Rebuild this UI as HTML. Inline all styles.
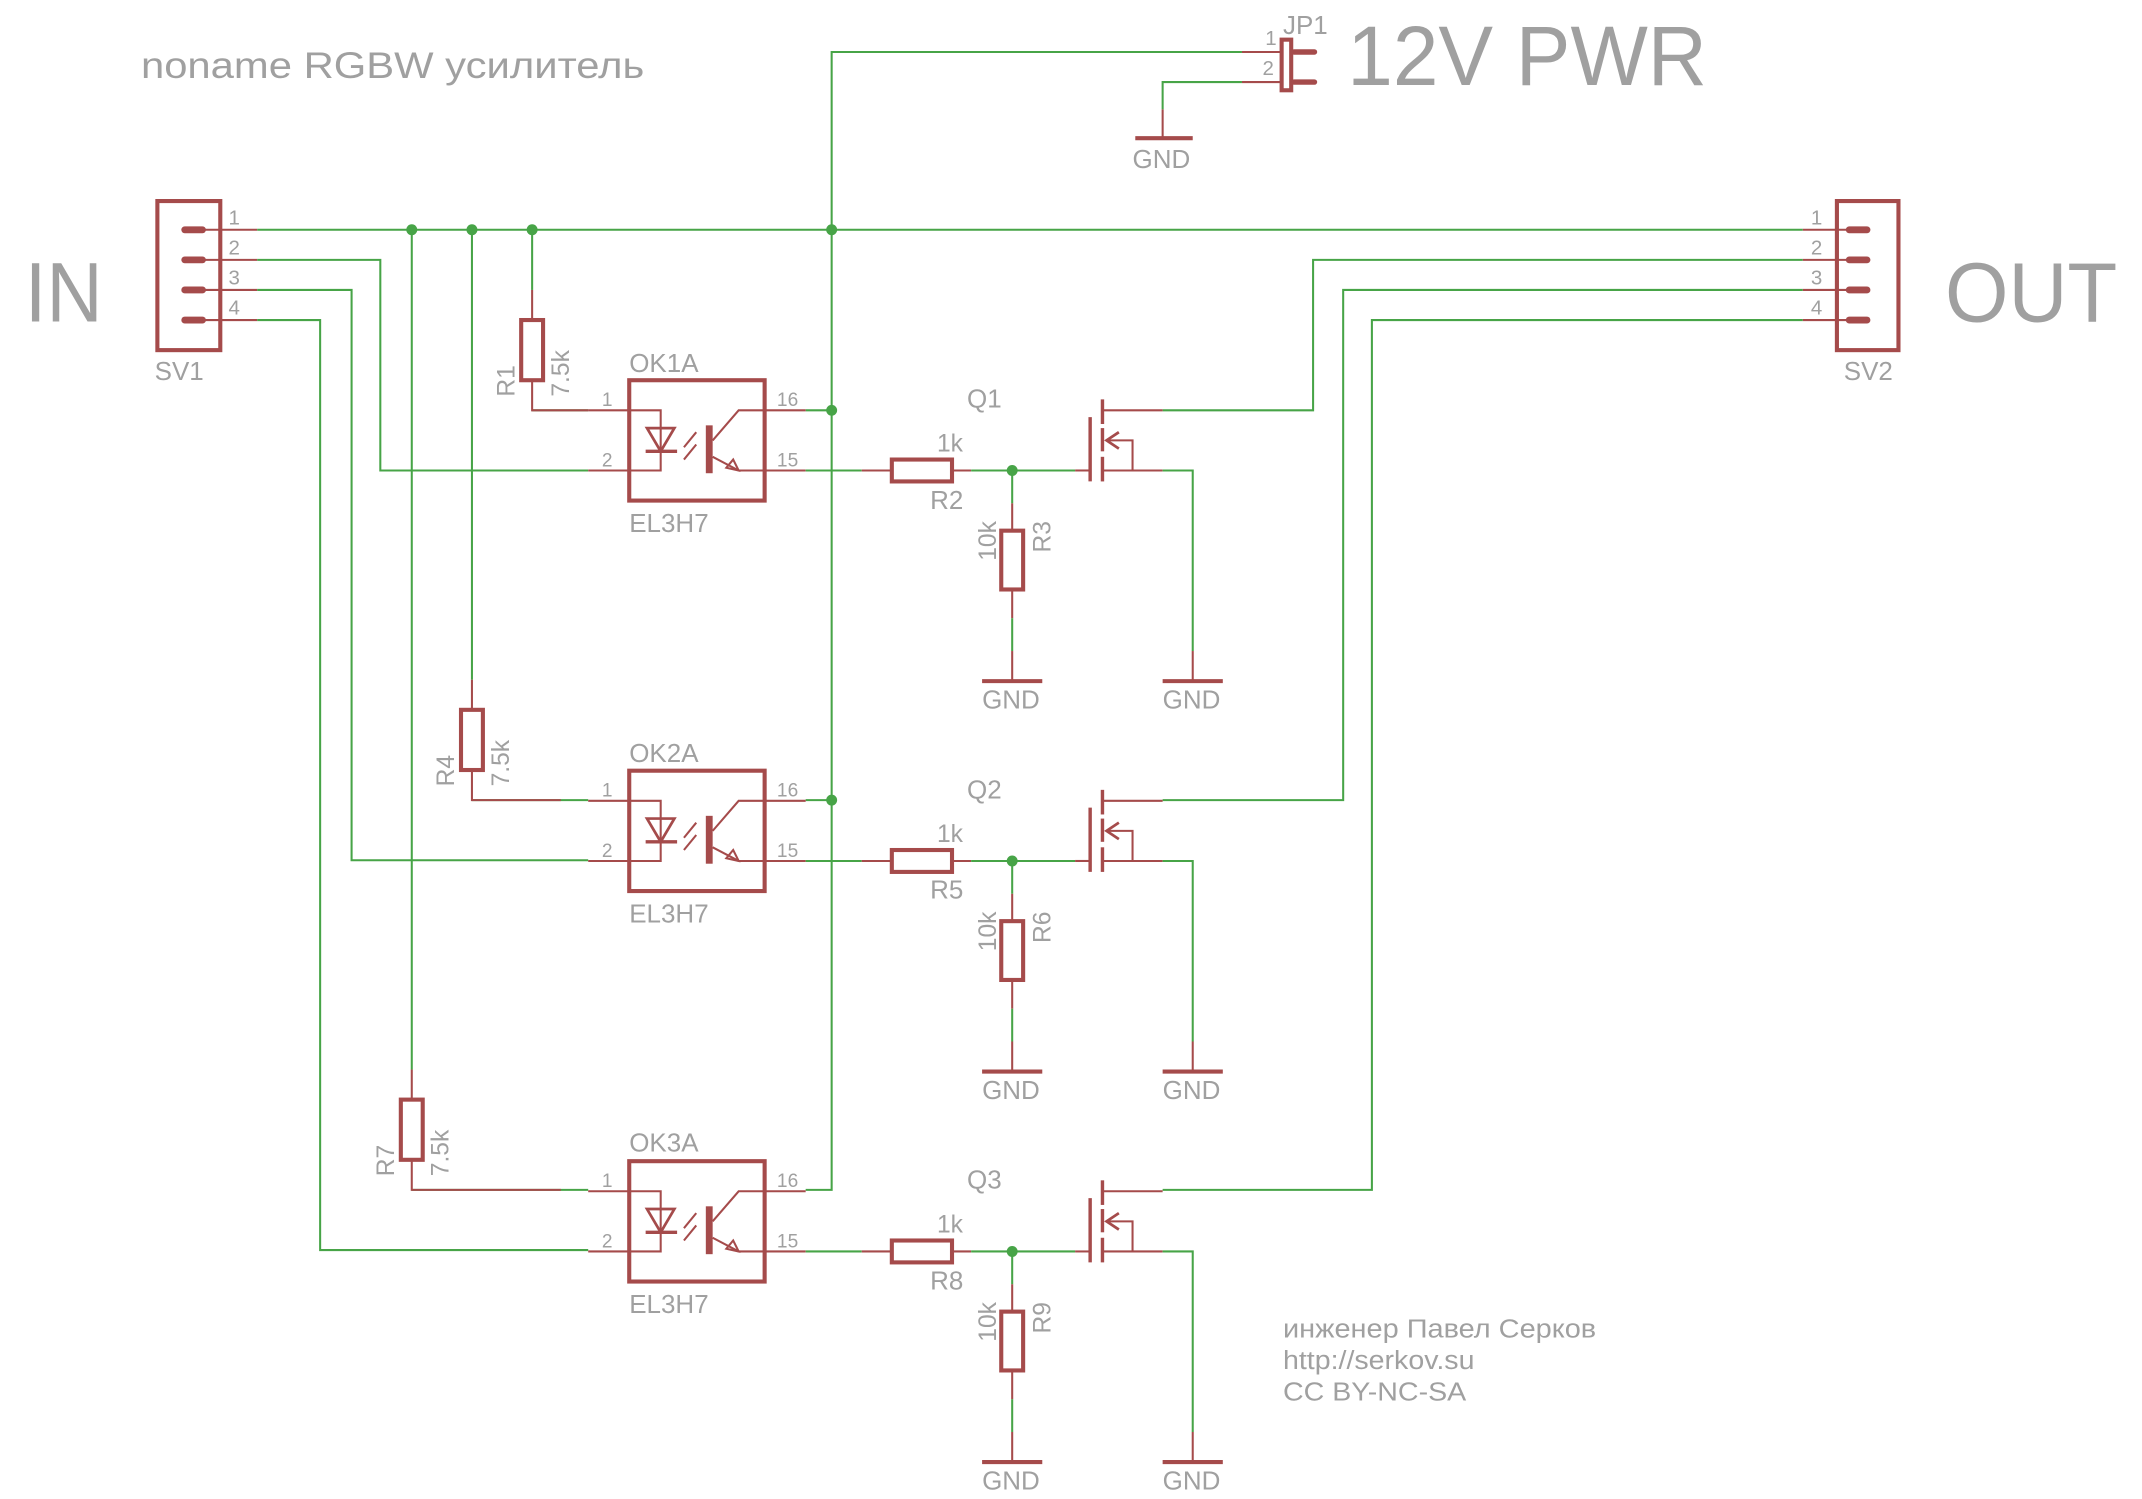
<!DOCTYPE html>
<html><head><meta charset="utf-8"><style>html,body{margin:0;padding:0;background:#fff}svg{display:block}</style></head>
<body>
<svg width="2142" height="1499" viewBox="0 0 1566 1096" xmlns="http://www.w3.org/2000/svg" font-family="Liberation Sans, DejaVu Sans, sans-serif">
<defs>
<g id="blk">
 <rect x="460" y="278" width="99" height="88" fill="none" stroke="#a54b4b" stroke-width="3"/>
 <line x1="430" y1="300" x2="460" y2="300" stroke="#a54b4b" stroke-width="1.5"/>
 <line x1="430" y1="344" x2="460" y2="344" stroke="#a54b4b" stroke-width="1.5"/>
 <line x1="559" y1="300" x2="589" y2="300" stroke="#a54b4b" stroke-width="1.5"/>
 <line x1="559" y1="344" x2="589" y2="344" stroke="#a54b4b" stroke-width="1.5"/>
 <polyline points="460,300 483,300 483,344 460,344" fill="none" stroke="#a54b4b" stroke-width="1.5"/>
 <polygon points="473,313 493,313 483,330" fill="none" stroke="#a54b4b" stroke-width="2"/>
 <line x1="472" y1="330" x2="495" y2="330" stroke="#a54b4b" stroke-width="2.5"/>
 <line x1="500" y1="327" x2="509" y2="316" stroke="#a54b4b" stroke-width="1.5"/>
 <line x1="500" y1="336" x2="509" y2="325" stroke="#a54b4b" stroke-width="1.5"/>
 <rect x="516" y="311" width="5" height="35" fill="#a54b4b"/>
 <polyline points="521,322 540,300 559,300" fill="none" stroke="#a54b4b" stroke-width="1.5"/>
 <polyline points="521,334 540,344 559,344" fill="none" stroke="#a54b4b" stroke-width="1.5"/>
 <polygon points="540,344 531,342 536,336" fill="none" stroke="#a54b4b" stroke-width="1.5"/>
 <text x="440" y="297" font-size="14" fill="#a0a0a0">1</text>
 <text x="440" y="341" font-size="14" fill="#a0a0a0">2</text>
 <text x="568" y="297" font-size="14" fill="#a0a0a0">16</text>
 <text x="568" y="341" font-size="14" fill="#a0a0a0">15</text>
 <text x="460" y="389" font-size="19" fill="#a0a0a0">EL3H7</text>
 <line x1="589" y1="344" x2="630" y2="344" stroke="#47a447" stroke-width="1.5"/>
 <line x1="630" y1="344" x2="652" y2="344" stroke="#a54b4b" stroke-width="1.5"/>
 <rect x="652" y="336" width="44" height="16" fill="none" stroke="#a54b4b" stroke-width="3"/>
 <line x1="696" y1="344" x2="710" y2="344" stroke="#a54b4b" stroke-width="1.5"/>
 <line x1="710" y1="344" x2="786" y2="344" stroke="#47a447" stroke-width="1.5"/>
 <line x1="786" y1="344" x2="797" y2="344" stroke="#a54b4b" stroke-width="1.5"/>
 <text x="685" y="330" font-size="18" fill="#a0a0a0">1k</text>
 <line x1="740" y1="344" x2="740" y2="368" stroke="#47a447" stroke-width="1.5"/>
 <line x1="740" y1="368" x2="740" y2="388" stroke="#a54b4b" stroke-width="1.5"/>
 <rect x="732" y="388" width="16" height="43" fill="none" stroke="#a54b4b" stroke-width="3"/>
 <line x1="740" y1="431" x2="740" y2="452" stroke="#a54b4b" stroke-width="1.5"/>
 <line x1="740" y1="452" x2="740" y2="476" stroke="#47a447" stroke-width="1.5"/>
 <line x1="740" y1="476" x2="740" y2="498" stroke="#a54b4b" stroke-width="1.5"/>
 <line x1="718" y1="498" x2="762" y2="498" stroke="#a54b4b" stroke-width="3"/>
 <text x="718" y="518" font-size="19" fill="#a0a0a0">GND</text>
 <circle cx="740" cy="344" r="4" fill="#47a447"/>
 <text transform="translate(728,410) rotate(-90)" font-size="18" fill="#a0a0a0">10k</text>
 <line x1="797" y1="305" x2="797" y2="352" stroke="#a54b4b" stroke-width="2.5"/>
 <line x1="806" y1="292" x2="806" y2="310" stroke="#a54b4b" stroke-width="2.5"/>
 <line x1="806" y1="313" x2="806" y2="330" stroke="#a54b4b" stroke-width="2.5"/>
 <line x1="806" y1="334" x2="806" y2="352" stroke="#a54b4b" stroke-width="2.5"/>
 <line x1="806" y1="300" x2="850" y2="300" stroke="#a54b4b" stroke-width="1.5"/>
 <polyline points="806,344 850,344" fill="none" stroke="#a54b4b" stroke-width="1.5"/>
 <polyline points="809,322 828,322 828,344" fill="none" stroke="#a54b4b" stroke-width="1.5"/>
 <polyline points="818,316 809,322 818,328" fill="none" stroke="#a54b4b" stroke-width="2"/>
 <polyline points="850,344 872,344 872,476" fill="none" stroke="#47a447" stroke-width="1.5"/>
 <line x1="872" y1="476" x2="872" y2="498" stroke="#a54b4b" stroke-width="1.5"/>
 <line x1="850" y1="498" x2="894" y2="498" stroke="#a54b4b" stroke-width="3"/>
 <text x="850" y="518" font-size="19" fill="#a0a0a0">GND</text>
</g>
</defs>

<text x="103" y="57" font-size="27" fill="#a0a0a0" textLength="368" lengthAdjust="spacingAndGlyphs">noname RGBW усилитель</text>
<text x="985" y="62" font-size="62" fill="#a0a0a0" textLength="263" lengthAdjust="spacingAndGlyphs">12V PWR</text>
<text x="18" y="235" font-size="62" fill="#a0a0a0" textLength="57" lengthAdjust="spacingAndGlyphs">IN</text>
<text x="1422" y="235" font-size="62" fill="#a0a0a0" textLength="126" lengthAdjust="spacingAndGlyphs">OUT</text>
<text x="938" y="978" font-size="19" fill="#a0a0a0" textLength="229" lengthAdjust="spacingAndGlyphs">инженер Павел Серков</text>
<text x="938" y="1001" font-size="19" fill="#a0a0a0" textLength="140" lengthAdjust="spacingAndGlyphs">http://serkov.su</text>
<text x="938" y="1024" font-size="19" fill="#a0a0a0" textLength="134" lengthAdjust="spacingAndGlyphs">CC BY-NC-SA</text>

<rect x="115" y="147" width="46" height="109" fill="none" stroke="#a54b4b" stroke-width="3"/>
<g stroke="#a54b4b" stroke-width="5" stroke-linecap="round">
 <line x1="135" y1="168" x2="148" y2="168"/><line x1="135" y1="190" x2="148" y2="190"/>
 <line x1="135" y1="212" x2="148" y2="212"/><line x1="135" y1="234" x2="148" y2="234"/>
</g>
<g stroke="#a54b4b" stroke-width="1.5">
 <line x1="148" y1="168" x2="188" y2="168"/><line x1="148" y1="190" x2="188" y2="190"/>
 <line x1="148" y1="212" x2="188" y2="212"/><line x1="148" y1="234" x2="188" y2="234"/>
</g>
<g font-size="15" fill="#a0a0a0">
 <text x="167" y="164">1</text><text x="167" y="186">2</text><text x="167" y="208">3</text><text x="167" y="230">4</text>
</g>
<text x="113" y="278" font-size="19" fill="#a0a0a0">SV1</text>

<rect x="1343" y="147" width="45" height="109" fill="none" stroke="#a54b4b" stroke-width="3"/>
<g stroke="#a54b4b" stroke-width="5" stroke-linecap="round">
 <line x1="1352" y1="168" x2="1365" y2="168"/><line x1="1352" y1="190" x2="1365" y2="190"/>
 <line x1="1352" y1="212" x2="1365" y2="212"/><line x1="1352" y1="234" x2="1365" y2="234"/>
</g>
<g stroke="#a54b4b" stroke-width="1.5">
 <line x1="1318" y1="168" x2="1352" y2="168"/><line x1="1318" y1="190" x2="1352" y2="190"/>
 <line x1="1318" y1="212" x2="1352" y2="212"/><line x1="1318" y1="234" x2="1352" y2="234"/>
</g>
<g font-size="15" fill="#a0a0a0">
 <text x="1324" y="164">1</text><text x="1324" y="186">2</text><text x="1324" y="208">3</text><text x="1324" y="230">4</text>
</g>
<text x="1348" y="278" font-size="19" fill="#a0a0a0">SV2</text>

<rect x="937" y="29" width="7" height="37" fill="none" stroke="#a54b4b" stroke-width="3"/>
<line x1="946" y1="38" x2="961" y2="38" stroke="#a54b4b" stroke-width="4" stroke-linecap="round"/>
<line x1="946" y1="60" x2="961" y2="60" stroke="#a54b4b" stroke-width="4" stroke-linecap="round"/>
<line x1="908" y1="38" x2="937" y2="38" stroke="#a54b4b" stroke-width="1.5"/>
<line x1="908" y1="60" x2="937" y2="60" stroke="#a54b4b" stroke-width="1.5"/>
<text x="925" y="33" font-size="15" fill="#a0a0a0">1</text>
<text x="923" y="55" font-size="15" fill="#a0a0a0">2</text>
<text x="938" y="25" font-size="19" fill="#a0a0a0">JP1</text>
<polyline points="908,60 850,60 850,80" fill="none" stroke="#47a447" stroke-width="1.5"/>
<line x1="850" y1="80" x2="850" y2="101" stroke="#a54b4b" stroke-width="1.5"/>
<line x1="830" y1="101" x2="872" y2="101" stroke="#a54b4b" stroke-width="3"/>
<text x="828" y="123" font-size="19" fill="#a0a0a0">GND</text>

<g fill="none" stroke="#47a447" stroke-width="1.5">
 <line x1="188" y1="168" x2="1318" y2="168"/>
 <polyline points="188,190 278,190 278,344 430,344"/>
 <polyline points="188,212 257,212 257,629 430,629"/>
 <polyline points="188,234 234,234 234,914 430,914"/>
 <polyline points="908,38 608,38 608,870 589,870"/>
 <line x1="589" y1="300" x2="608" y2="300"/>
 <line x1="589" y1="585" x2="608" y2="585"/>
 <line x1="389" y1="168" x2="389" y2="212"/>
 <polyline points="389,300 430,300"/>
 <line x1="345" y1="168" x2="345" y2="497"/>
 <polyline points="345,585 430,585"/>
 <line x1="301" y1="168" x2="301" y2="782"/>
 <polyline points="301,870 430,870"/>
 <polyline points="850,300 960,300 960,190 1318,190"/>
 <polyline points="850,585 982,585 982,212 1318,212"/>
 <polyline points="850,870 1003,870 1003,234 1318,234"/>
</g>
<g fill="#47a447">
 <circle cx="301" cy="168" r="4"/><circle cx="345" cy="168" r="4"/><circle cx="389" cy="168" r="4"/><circle cx="608" cy="168" r="4"/>
 <circle cx="608" cy="300" r="4"/><circle cx="608" cy="585" r="4"/>
</g>

<g stroke="#a54b4b" fill="none">
 <line x1="389" y1="212" x2="389" y2="234" stroke-width="1.5"/>
 <rect x="381" y="234" width="16" height="44" stroke-width="3"/>
 <polyline points="389,278 389,300 430,300" stroke-width="1.5"/>
 <line x1="345" y1="497" x2="345" y2="519" stroke-width="1.5"/>
 <rect x="337" y="519" width="16" height="44" stroke-width="3"/>
 <polyline points="345,563 345,585 410,585" stroke-width="1.5"/>
 <line x1="301" y1="782" x2="301" y2="804" stroke-width="1.5"/>
 <rect x="293" y="804" width="16" height="44" stroke-width="3"/>
 <polyline points="301,848 301,870 410,870" stroke-width="1.5"/>
</g>
<g font-size="18" fill="#a0a0a0">
 <text transform="translate(376,290) rotate(-90)">R1</text>
 <text transform="translate(416,290) rotate(-90)">7.5k</text>
 <text transform="translate(332,575) rotate(-90)">R4</text>
 <text transform="translate(372,575) rotate(-90)">7.5k</text>
 <text transform="translate(288,860) rotate(-90)">R7</text>
 <text transform="translate(328,860) rotate(-90)">7.5k</text>
</g>

<use href="#blk"/>
<use href="#blk" transform="translate(0,285.5)"/>
<use href="#blk" transform="translate(0,571)"/>
<g font-size="19" fill="#a0a0a0">
 <text x="460" y="272">OK1A</text><text x="460" y="557">OK2A</text><text x="460" y="842">OK3A</text>
 <text x="707" y="298">Q1</text><text x="707" y="584">Q2</text><text x="707" y="869">Q3</text>
 <text x="680" y="372">R2</text><text x="680" y="657">R5</text><text x="680" y="943">R8</text>
</g>
<g font-size="18" fill="#a0a0a0">
 <text transform="translate(768,404) rotate(-90)">R3</text>
 <text transform="translate(768,689.5) rotate(-90)">R6</text>
 <text transform="translate(768,975) rotate(-90)">R9</text>
</g>
</svg>
</body></html>
